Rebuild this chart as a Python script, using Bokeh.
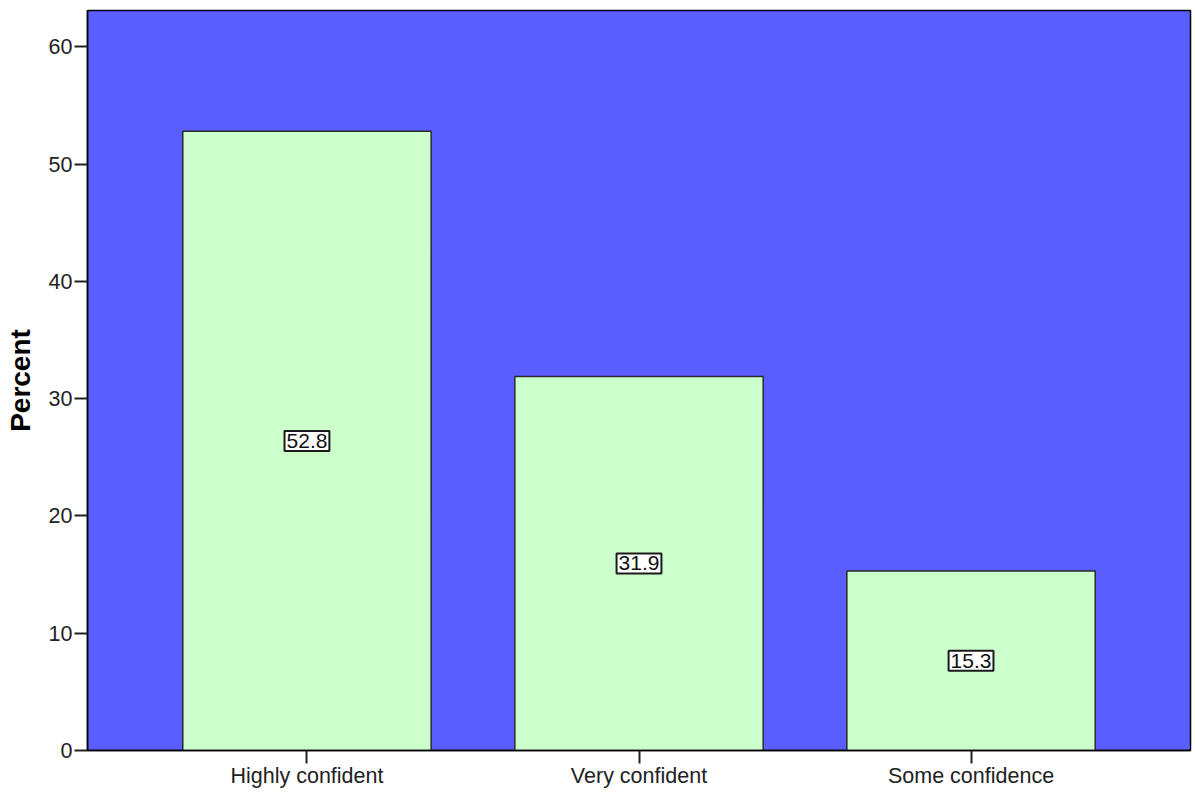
from bokeh.plotting import figure
from bokeh.models import Range1d, ColumnDataSource
from bokeh.core.properties import value
from bokeh.embed import file_html
from bokeh.resources import INLINE

categories = ["Highly confident", "Very confident", "Some confidence"]
percents = [52.8, 31.9, 15.3]
label_texts = ["52.8", "31.9", "15.3"]
y_ticks = [0, 10, 20, 30, 40, 50, 60]

FONT = "Liberation Sans"

src = ColumnDataSource(dict(
    cat=categories,
    pct=percents,
    mid=[v / 2 for v in percents],
    txt=label_texts,
))

p = figure(
    x_range=categories,
    y_range=Range1d(0, 63.1),
    width=1193, height=790,
    output_backend="svg", toolbar_location=None,
    min_border_left=87, min_border_right=3, min_border_top=10, min_border_bottom=40,
)
p.x_range.range_padding = 0.1073
p.background_fill_color = "#5B5EFF"
p.border_fill_color = "white"
p.outline_line_color = "black"
p.outline_line_width = 1.5
p.xgrid.visible = False
p.ygrid.visible = False

p.vbar(x="cat", top="pct", width=0.748, source=src,
       fill_color="#CCFFCC", line_color="#2a2a2a", line_width=1.5)

p.text(x="cat", y="mid", text="txt", source=src,
       text_font=value(FONT), text_font_size="21px", text_color="#111111",
       text_align="center", text_baseline="middle",
       background_fill_color="white", border_line_color="#1a1a1a",
       border_line_width=2, padding=(2, 3))

for ax in (p.xaxis[0], p.yaxis[0]):
    ax.axis_line_color = "black"
    ax.axis_line_width = 1.5
    ax.major_tick_line_color = "#222222"
    ax.major_tick_line_width = 2
    ax.major_tick_in = 0
    ax.major_tick_out = 13
    ax.minor_tick_line_color = None
    ax.major_label_text_font = FONT
    ax.major_label_text_font_size = "21.5px"
    ax.major_label_text_color = "#222222"

p.yaxis.ticker = y_ticks
p.yaxis.major_label_standoff = 2
p.yaxis.axis_label = "Percent"
p.yaxis.axis_label_text_font = FONT
p.yaxis.axis_label_text_font_size = "28px"
p.yaxis.axis_label_text_font_style = "bold"
p.yaxis.axis_label_text_color = "black"
p.yaxis.axis_label_standoff = 10
p.xaxis.major_label_standoff = 0

open("out.html", "w").write(file_html(p, INLINE))
